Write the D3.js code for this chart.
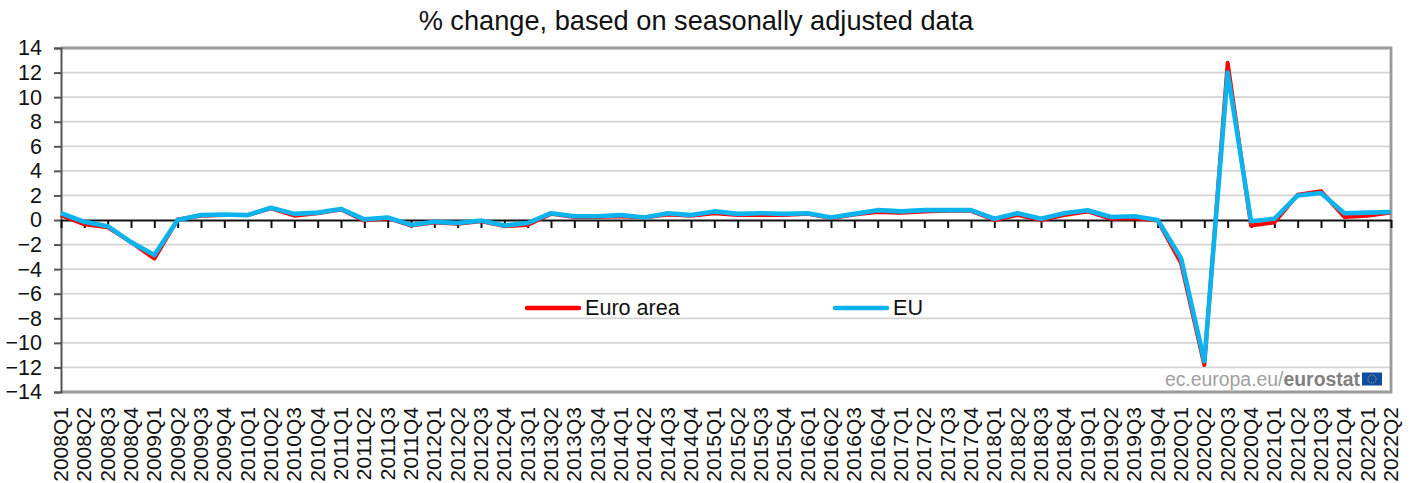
<!DOCTYPE html>
<html>
<head>
<meta charset="utf-8">
<script src="https://cdn.jsdelivr.net/npm/d3@7"></script>
<style>
    html, body { margin: 0; padding: 0; background: #fff; }
    svg { display: block; }
    text { font-family: "Liberation Sans", Arial, sans-serif; fill: #111; }
</style>
</head>
<body>
<svg id="chart" width="1411" height="483"></svg>
<script>
var years = [2008, 2009, 2010, 2011, 2012, 2013, 2014, 2015, 2016, 2017, 2018, 2019, 2020, 2021, 2022];
var quarters = ["Q1", "Q2", "Q3", "Q4"];
var yTicks = [14, 12, 10, 8, 6, 4, 2, 0, -2, -4, -6, -8, -10, -12, -14];

var euroArea = [
    0.4, -0.35, -0.6, -1.8,
    -3.15, 0.05, 0.35, 0.4,
    0.4, 0.95, 0.35, 0.55,
    0.85, -0.05, 0.15, -0.45,
    -0.2, -0.3, -0.1, -0.5,
    -0.4, 0.5, 0.25, 0.25,
    0.3, 0.2, 0.45, 0.35,
    0.55, 0.4, 0.4, 0.4,
    0.5, 0.15, 0.45, 0.65,
    0.6, 0.7, 0.75, 0.75,
    0, 0.4, 0, 0.4,
    0.7, 0.1, 0.15, -0.05,
    -3.5, -11.8, 12.8, -0.45,
    -0.2, 2.05, 2.35, 0.25,
    0.35, 0.6
];
var eu = [
    0.55, -0.15, -0.5, -1.8,
    -2.85, 0, 0.4, 0.45,
    0.4, 1.0, 0.5, 0.6,
    0.9, 0.05, 0.2, -0.4,
    -0.15, -0.25, -0.05, -0.45,
    -0.25, 0.55, 0.3, 0.3,
    0.4, 0.2, 0.55, 0.4,
    0.7, 0.5, 0.55, 0.5,
    0.55, 0.2, 0.5, 0.8,
    0.7, 0.8, 0.8, 0.8,
    0.1, 0.55, 0.1, 0.55,
    0.8, 0.25, 0.3, 0,
    -3.1, -11.5, 12.0, -0.1,
    0.1, 2.0, 2.2, 0.55,
    0.6, 0.65
];

var categories = [];
years.forEach(function (y) {
    quarters.forEach(function (q) {
        categories.push(y + q);
    });
});
categories = categories.slice(0, euroArea.length);

var svg = d3.select("#chart");
var left = 61, right = 1391, top_ = 48, bottom = 392;

var x = d3.scalePoint().domain(categories).range([left, right]);
var y = d3.scaleLinear().domain([-14, 14]).range([bottom, top_]);

// Gridlines
svg.append("g")
    .selectAll("line")
    .data(yTicks.filter(function (d) { return d !== 0 && Math.abs(d) !== 14; }))
    .enter()
    .append("line")
    .attr("x1", left)
    .attr("x2", right)
    .attr("y1", function (d) { return y(d); })
    .attr("y2", function (d) { return y(d); })
    .attr("stroke", "#d4d4d4")
    .attr("stroke-width", 1.8);

// Frame
svg.append("path")
    .attr("d", "M" + left + "," + top_ + "H" + right + "V" + bottom + "H" + left)
    .attr("fill", "none")
    .attr("stroke", "#9a9a9a")
    .attr("stroke-width", 2.8);

// Y axis
var yAxis = svg.append("g")
    .attr("transform", "translate(" + left + ",0)")
    .call(d3.axisLeft(y).tickValues(yTicks).tickFormat(d3.format("d")).tickSize(7).tickPadding(12));
yAxis.selectAll("path, line").attr("stroke", "#555").attr("stroke-width", 2);
yAxis.selectAll("text").attr("font-size", 21.5).style("font-family", "Liberation Sans").attr("fill", "#111");

// Zero line with ticks pointing down
var xAxis = svg.append("g")
    .attr("transform", "translate(0," + y(0) + ")")
    .call(d3.axisBottom(x).tickSizeInner(8).tickSizeOuter(0).tickFormat(""));
xAxis.selectAll("path").attr("stroke", "#111").attr("stroke-width", 2);
xAxis.selectAll("line").attr("stroke", "#111").attr("stroke-width", 2);

// Rotated quarter labels under the plot
svg.append("g")
    .selectAll("text")
    .data(categories)
    .enter()
    .append("text")
    .text(function (d) { return d; })
    .attr("font-size", 21)
    .attr("text-anchor", "end")
    .attr("transform", function (d) {
        return "translate(" + (x(d) + 7) + ",407) rotate(-90)";
    });

// Series
var line = d3.line()
    .x(function (d, i) { return x(categories[i]); })
    .y(function (d) { return y(d); });

svg.append("path")
    .datum(euroArea)
    .attr("d", line)
    .attr("fill", "none")
    .attr("stroke", "#ff0000")
    .attr("stroke-width", 4)
    .attr("stroke-linejoin", "round");

svg.append("path")
    .datum(eu)
    .attr("d", line)
    .attr("fill", "none")
    .attr("stroke", "#0cb4ee")
    .attr("stroke-width", 4.6)
    .attr("stroke-linejoin", "round");

// Legend
var legendItems = [
    { name: "Euro area", color: "#ff0000", x1: 527, x2: 579 },
    { name: "EU", color: "#0cb4ee", x1: 835, x2: 887 }
];
var legend = svg.append("g")
    .selectAll("g")
    .data(legendItems)
    .enter()
    .append("g");
legend.append("line")
    .attr("x1", function (d) { return d.x1; })
    .attr("x2", function (d) { return d.x2; })
    .attr("y1", 308)
    .attr("y2", 308)
    .attr("stroke", function (d) { return d.color; })
    .attr("stroke-width", 4.4)
    .attr("stroke-linecap", "round");
legend.append("text")
    .text(function (d) { return d.name; })
    .attr("x", function (d) { return d.x2 + 6; })
    .attr("y", 315)
    .attr("font-size", 21.6);

// Title
svg.append("text")
    .text("% change, based on seasonally adjusted data")
    .attr("x", 696)
    .attr("y", 30)
    .attr("text-anchor", "middle")
    .attr("font-size", 27.2);

// Source mark
var mark = svg.append("text")
    .attr("x", 1360)
    .attr("y", 386)
    .attr("text-anchor", "end")
    .attr("font-size", 19.4);
mark.append("tspan").text("ec.europa.eu/").style("fill", "#a0a0a0");
mark.append("tspan").text("eurostat").style("fill", "#808080").attr("font-weight", "bold");

svg.append("rect")
    .attr("x", 1362)
    .attr("y", 372.5)
    .attr("width", 20)
    .attr("height", 13)
    .attr("fill", "#0f4da0");
svg.append("circle")
    .attr("cx", 1372)
    .attr("cy", 379)
    .attr("r", 4)
    .attr("fill", "none")
    .attr("stroke", "#c9b94a")
    .attr("stroke-width", 1)
    .attr("stroke-dasharray", "1 1");
</script>
</body>
</html>
